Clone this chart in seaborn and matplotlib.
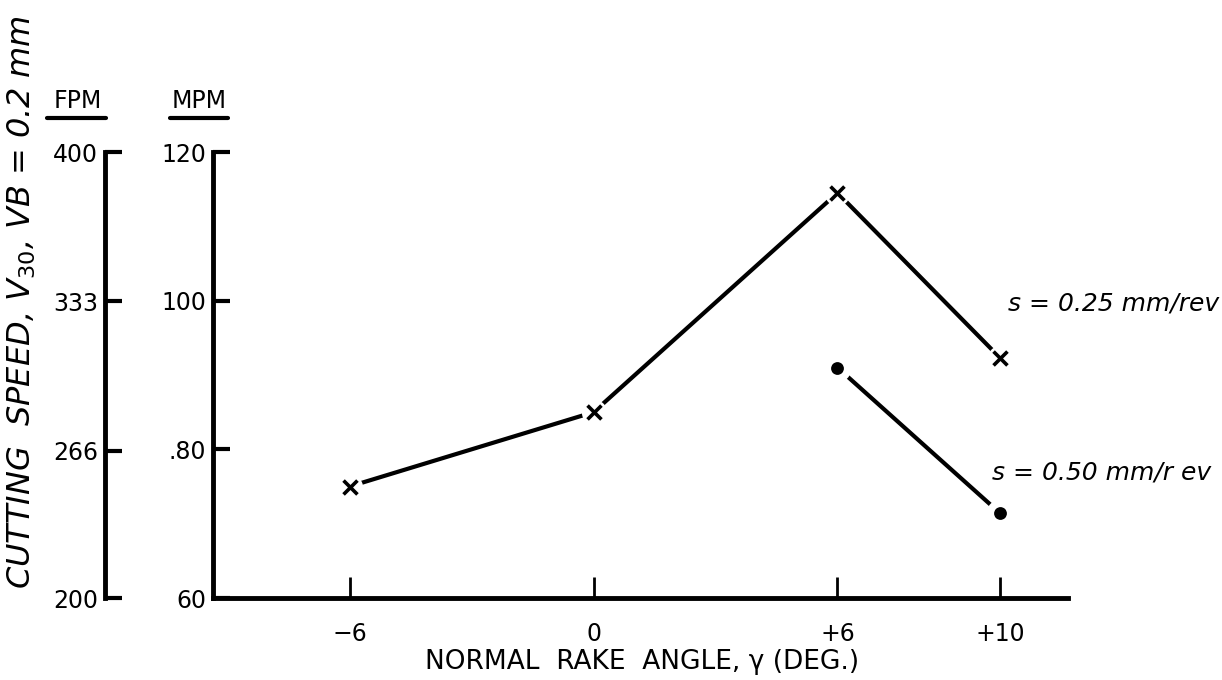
import matplotlib
matplotlib.use("Agg")
import matplotlib.pyplot as plt
import seaborn as sns
import pandas as pd
from matplotlib.lines import Line2D

# Tool life cutting speed V30 (VB = 0.2 mm) versus normal rake angle
rake_angle_s025 = [-6, 0, 6, 10]
speed_s025 = [75.0, 85.0, 114.5, 92.3]      # MPM, feed s = 0.25 mm/rev
rake_angle_s050 = [6, 10]
speed_s050 = [91.0, 71.4]                   # MPM, feed s = 0.50 mm/rev

x_ticks = [-6, 0, 6, 10]
x_tick_labels = ["\u22126", "0", "+6", "+10"]
mpm_ticks = [60, 80, 100, 120]
mpm_labels = ["60", ".80", "100", "120"]
fpm_ticks = [200, 266, 333, 400]
fpm_labels = ["200", "266", "333", "400"]
series_labels = ["s = 0.25 mm/rev", "s = 0.50 mm/r ev"]

df025 = pd.DataFrame({"rake": rake_angle_s025, "speed": speed_s025})
df050 = pd.DataFrame({"rake": rake_angle_s050, "speed": speed_s050})

sns.set_theme(style="white")
plt.rcParams["font.family"] = ["DejaVu Sans"]
plt.rcParams["mathtext.fontset"] = "dejavusans"

W, H = 1222, 680
fig = plt.figure(figsize=(W / 100, H / 100), dpi=100)
ax = fig.add_axes([213 / W, 82 / H, 855 / W, 446 / H])

# connecting lines
sns.lineplot(data=df025, x="rake", y="speed", ax=ax, color="black",
             linewidth=3, zorder=2, sort=False)
sns.lineplot(data=df050, x="rake", y="speed", ax=ax, color="black",
             linewidth=3, zorder=2, sort=False)

# small white halos leave a gap between line ends and markers
ax.scatter(df025["rake"], df025["speed"], s=330, color="white", zorder=3,
           linewidths=0)
ax.scatter(df050["rake"], df050["speed"], s=400, color="white", zorder=3,
           linewidths=0)

sns.scatterplot(data=df025, x="rake", y="speed", ax=ax, marker="x",
                color="black", s=100, linewidth=2.6, zorder=4)
sns.scatterplot(data=df050, x="rake", y="speed", ax=ax, marker="o",
                color="black", s=85, linewidth=0, zorder=4)

ax.set_xlim(-9.36, 11.67)
ax.set_ylim(60, 120)
ax.set_xticks(x_ticks)
ax.set_xticklabels(x_tick_labels)
ax.set_yticks(mpm_ticks)
ax.set_yticklabels(mpm_labels)
ax.set_xlabel("")
ax.set_ylabel("")

for side in ["top", "right"]:
    ax.spines[side].set_visible(False)
for side in ["left", "bottom"]:
    ax.spines[side].set_color("black")
    ax.spines[side].set_linewidth(3.5)

ax.tick_params(axis="y", direction="in", length=12, width=3, color="black",
               labelsize=17, pad=5, left=True)
ax.tick_params(axis="x", direction="in", length=15, width=2, color="black",
               labelsize=17, pad=17, bottom=True)

# FPM scale on a second left axis
ax2 = ax.twinx()
ax2.set_ylim(200, 400)
ax2.yaxis.tick_left()
ax2.set_yticks(fpm_ticks)
ax2.set_yticklabels(fpm_labels)
for side in ["top", "right", "bottom"]:
    ax2.spines[side].set_visible(False)
ax2.spines["left"].set_visible(True)
ax2.spines["left"].set_position(("outward", 108 * 0.72))
ax2.spines["left"].set_color("black")
ax2.spines["left"].set_linewidth(3.5)
ax2.tick_params(axis="y", direction="in", length=12, width=3, color="black",
                labelsize=17, pad=5, left=True, right=False)
ax2.grid(False)
ax.grid(False)

for lab in ax.get_xticklabels() + ax.get_yticklabels() + ax2.get_yticklabels():
    lab.set_color("black")

# series labels
ax.text(10.2, 99.6, series_labels[0], fontsize=18, style="italic",
        color="black", va="center", ha="left", clip_on=False)
ax.text(9.8, 76.9, series_labels[1], fontsize=18, style="italic",
        color="black", va="center", ha="left", clip_on=False)

# axis titles
fig.text(642 / W, 1 - 662 / H, "NORMAL  RAKE  ANGLE, \u03b3 (DEG.)",
         fontsize=19, color="black", ha="center", va="center")
fig.text(22 / W, 1 - 302 / H, "CUTTING  SPEED, V$_{30}$, VB = 0.2 mm",
         fontsize=23, style="italic", color="black", rotation=90,
         ha="center", va="center")

# unit headers with underlines
fig.text(78 / W, 1 - 101 / H, "FPM", fontsize=17, color="black",
         ha="center", va="center")
fig.text(199 / W, 1 - 101 / H, "MPM", fontsize=17, color="black",
         ha="center", va="center")
fig.add_artist(Line2D([47 / W, 106 / W], [1 - 118 / H, 1 - 118 / H],
                      color="black", linewidth=3))
fig.add_artist(Line2D([170 / W, 228 / W], [1 - 118 / H, 1 - 118 / H],
                      color="black", linewidth=3))

fig.savefig("out.png", dpi=100, facecolor="white")
